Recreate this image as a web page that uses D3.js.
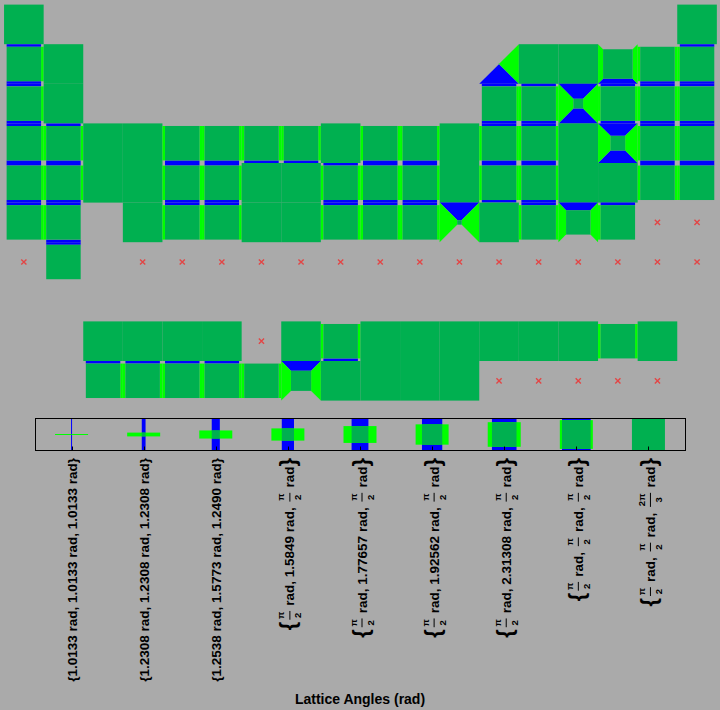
<!DOCTYPE html>
<html><head><meta charset="utf-8">
<script src="https://cdn.jsdelivr.net/npm/d3@7/dist/d3.min.js"></script>
<style>html,body{margin:0;padding:0;background:#aaaaaa;}svg{display:block;}</style>
</head><body>
<svg id="chart" width="720" height="710"></svg>
<script>
// ---------------- data ----------------
const symbols = ["H","He","Li","Be","B","C","N","O","F","Ne","Na","Mg","Al","Si","P","S","Cl","Ar",
 "K","Ca","Sc","Ti","V","Cr","Mn","Fe","Co","Ni","Cu","Zn","Ga","Ge","As","Se","Br","Kr",
 "Rb","Sr","Y","Zr","Nb","Mo","Tc","Ru","Rh","Pd","Ag","Cd","In","Sn","Sb","Te","I","Xe",
 "Cs","Ba","La","Ce","Pr","Nd","Pm","Sm","Eu","Gd","Tb","Dy","Ho","Er","Tm","Yb","Lu",
 "Hf","Ta","W","Re","Os","Ir","Pt","Au","Hg","Tl","Pb","Bi","Po","At","Rn",
 "Fr","Ra","Ac","Th","Pa","U","Np","Pu","Am","Cm","Bk","Cf","Es","Fm","Md","No","Lr",
 "Rf","Db","Sg","Bh","Hs","Mt","Ds","Rg","Cn","Nh","Fl","Mc","Lv","Ts","Og"];
const periodRow = [1,1, 2,2,2,2,2,2,2,2, 3,3,3,3,3,3,3,3,
 4,4,4,4,4,4,4,4,4,4,4,4,4,4,4,4,4,4,
 5,5,5,5,5,5,5,5,5,5,5,5,5,5,5,5,5,5,
 6,6, 9,9,9,9,9,9,9,9,9,9,9,9,9,9,9,
 6,6,6,6,6,6,6,6,6,6,6,6,6,6,6,
 7,7, 10,10,10,10,10,10,10,10,10,10,10,10,10,10,10,
 7,7,7,7,7,7,7,7,7,7,7,7,7,7,7];
const groupCol = [1,18, 1,2,13,14,15,16,17,18, 1,2,13,14,15,16,17,18,
 1,2,3,4,5,6,7,8,9,10,11,12,13,14,15,16,17,18,
 1,2,3,4,5,6,7,8,9,10,11,12,13,14,15,16,17,18,
 1,2, 3,4,5,6,7,8,9,10,11,12,13,14,15,16,17,
 4,5,6,7,8,9,10,11,12,13,14,15,16,17,18,
 1,2, 3,4,5,6,7,8,9,10,11,12,13,14,15,16,17,
 4,5,6,7,8,9,10,11,12,13,14,15,16,17,18];
// index into angleSets; -1 = no data
const angleSetIndex = [8,8, 7,8,0,8,8,6,7,7, 7,8,7,7,2,7,7,7,
 7,7,8,8,7,7,7,7,8,7,7,8,7,7,8,3,7,7,
 7,7,8,8,7,7,8,8,7,7,7,8,7,7,8,8,7,7,
 7,7, 8,8,8,8,-1,8,7,8,8,8,8,8,8,7,8,
 8,7,7,8,8,7,7,7,1,8,7,5,7,-1,-1,
 -1,7, 7,7,7,7,7,4,8,8,8,8,-1,-1,-1,-1,-1,
 -1,-1,-1,-1,-1,-1,-1,-1,-1,-1,-1,-1,-1,-1,-1];
const angleSets = [
 ["1.0133","1.0133","1.0133"],
 ["1.2308","1.2308","1.2308"],
 ["1.2538","1.5773","1.2490"],
 ["π/2","1.5849","π/2"],
 ["π/2","1.77657","π/2"],
 ["π/2","1.92562","π/2"],
 ["π/2","2.31308","π/2"],
 ["π/2","π/2","π/2"],
 ["π/2","π/2","2π/3"]
];
const axisTitle = "Lattice Angles (rad)";

// ---------------- style ----------------
const BG = "#aaaaaa", DARK = "#00b050", GREEN = "#00ff00", BLUE = "#0000ff", MISS = "#e24646";
const FONT = "'Liberation Sans', Arial, Helvetica, sans-serif";
const cellSize = 39.6;
const glyphFrac = d3.scaleOrdinal().domain(d3.range(9))
  .range([0.02, 0.115, 0.245, 0.37, 0.51, 0.615, 0.745, 0.87, 1]);

const svg = d3.select("#chart");
svg.append("rect").attr("width", 720).attr("height", 710).attr("fill", BG);

const xCell = d3.scaleBand().domain(d3.range(1, 19)).range([4.05, 4.05 + 18 * cellSize]);
const yCell = d3.scaleBand().domain(d3.range(1, 11)).range([4.6, 4.6 + 10 * cellSize]);

const present = new Map();
symbols.forEach((s, i) => present.set(periodRow[i] + "," + groupCol[i], angleSetIndex[i] >= 0));
const has = (r, c) => present.get(r + "," + c) === true;

const table = svg.append("g").attr("class", "table");
const pts = a => a.map(p => p[0].toFixed(2) + "," + p[1].toFixed(2)).join(" ");

symbols.forEach((s, i) => {
  const r = periodRow[i], c = groupCol[i], k = angleSetIndex[i];
  const cx = xCell(c) + xCell.bandwidth() / 2, cy = yCell(r) + yCell.bandwidth() / 2;
  const H = cellSize / 2;
  const g = table.append("g").attr("class", "el").attr("data-symbol", s);
  if (k < 0) {
    const d = 2.6;
    g.append("path").attr("d", `M${cx-d},${cy-d}L${cx+d},${cy+d}M${cx-d},${cy+d}L${cx+d},${cy-d}`)
      .attr("stroke", MISS).attr("stroke-width", 1.4).attr("fill", "none");
    return;
  }
  if (k === 8) {
    g.append("rect").attr("x", cx - H).attr("y", cy - H).attr("width", cellSize).attr("height", cellSize).attr("fill", DARK);
    return;
  }
  const h = glyphFrac(k) * H;
  const Ho = k === 7 ? h : H;
  if (has(r - 1, c)) g.append("polygon").attr("fill", BLUE).attr("points", pts([[cx-Ho,cy-H],[cx+Ho,cy-H],[cx+h,cy-h],[cx-h,cy-h]]));
  if (has(r + 1, c)) g.append("polygon").attr("fill", BLUE).attr("points", pts([[cx-Ho,cy+H],[cx+Ho,cy+H],[cx+h,cy+h],[cx-h,cy+h]]));
  if (has(r, c - 1)) g.append("polygon").attr("fill", GREEN).attr("points", pts([[cx-H,cy-Ho],[cx-H,cy+Ho],[cx-h,cy+h],[cx-h,cy-h]]));
  if (has(r, c + 1)) g.append("polygon").attr("fill", GREEN).attr("points", pts([[cx+H,cy-Ho],[cx+H,cy+Ho],[cx+h,cy+h],[cx+h,cy-h]]));
  g.append("rect").attr("x", cx - h).attr("y", cy - h).attr("width", 2 * h).attr("height", 2 * h).attr("fill", DARK);
});

// ---------------- legend ----------------
const legTop = 418, legH = 33;
const xLeg = d3.scaleBand().domain(d3.range(angleSets.length)).range([35.5, 684.5]);
const leg = svg.append("g").attr("class", "legend");
angleSets.forEach((a, k) => {
  const cx = xLeg(k) + xLeg.bandwidth() / 2, cy = legTop + legH / 2;
  const w = Math.max(1, glyphFrac(k) * legH);
  const g = leg.append("g");
  if (k === 8) {
    g.append("rect").attr("x", cx - legH / 2).attr("y", legTop).attr("width", legH).attr("height", legH).attr("fill", DARK);
  } else {
    g.append("rect").attr("x", cx - w / 2).attr("y", legTop).attr("width", w).attr("height", legH).attr("fill", BLUE);
    g.append("rect").attr("x", cx - legH / 2).attr("y", cy - w / 2).attr("width", legH).attr("height", w).attr("fill", GREEN);
    g.append("rect").attr("x", cx - w / 2).attr("y", cy - w / 2).attr("width", w).attr("height", w).attr("fill", DARK);
  }
});
leg.append("rect").attr("x", 35.5).attr("y", 418.5).attr("width", 650).attr("height", 32)
  .attr("fill", "none").attr("stroke", "#000").attr("stroke-width", 1);
angleSets.forEach((a, k) => {
  const cx = Math.round(xLeg(k) + xLeg.bandwidth() / 2) + 0.5;
  leg.append("line").attr("x1", cx).attr("x2", cx).attr("y1", 450.5).attr("y2", 446.5)
    .attr("stroke", "#000").attr("stroke-width", 1);
});

// ---------------- labels ----------------
const NB = "\u00a0";
const LBL = 13.5;
function drawLabel(k, parts) {
  const tx = xLeg(k) + xLeg.bandwidth() / 2;
  const outer = svg.append("g").attr("transform", `translate(${tx},458) rotate(-90)`);
  const g = outer.append("g").attr("font-family", FONT).attr("font-weight", "bold").attr("fill", "#000");
  const hasFrac = parts.some(p => p.includes("/"));
  const base = hasFrac ? 6.5 : 5;
  let x = 0;
  const add = (str, size, y) => {
    const t = g.append("text").attr("x", x).attr("y", y).attr("font-size", size).text(str);
    return t.node().getComputedTextLength();
  };
  x += add("{", hasFrac ? 22 : LBL, hasFrac ? 7.5 : base);
  parts.forEach((p, i) => {
    const tail = NB + "rad" + (i < parts.length - 1 ? "," + NB : "");
    if (p.includes("/")) {
      const [num, den] = p.split("/");
      x += 2;
      const tn = g.append("text").attr("font-size", 9.5).attr("y", -3.5).attr("text-anchor", "middle").text(num);
      const td = g.append("text").attr("font-size", 9.5).attr("y", 13.5).attr("text-anchor", "middle").text(den);
      const fw = Math.max(tn.node().getComputedTextLength(), td.node().getComputedTextLength()) + 1.5;
      tn.attr("x", x + fw / 2); td.attr("x", x + fw / 2);
      g.append("line").attr("x1", x).attr("x2", x + fw).attr("y1", 2).attr("y2", 2)
        .attr("stroke", "#000").attr("stroke-width", 1);
      x += fw + 1.5;
      x += add(tail, LBL, base);
    } else {
      x += add(p + tail, LBL, base);
    }
  });
  x += add("}", hasFrac ? 22 : LBL, hasFrac ? 7.5 : base);
  g.attr("transform", `translate(${-x},0)`);
}
angleSets.forEach((a, k) => drawLabel(k, a));

svg.append("text").attr("x", 360).attr("y", 704).attr("text-anchor", "middle")
  .attr("font-family", FONT).attr("font-weight", "bold").attr("font-size", 14).text(axisTitle);
</script>
</body></html>
